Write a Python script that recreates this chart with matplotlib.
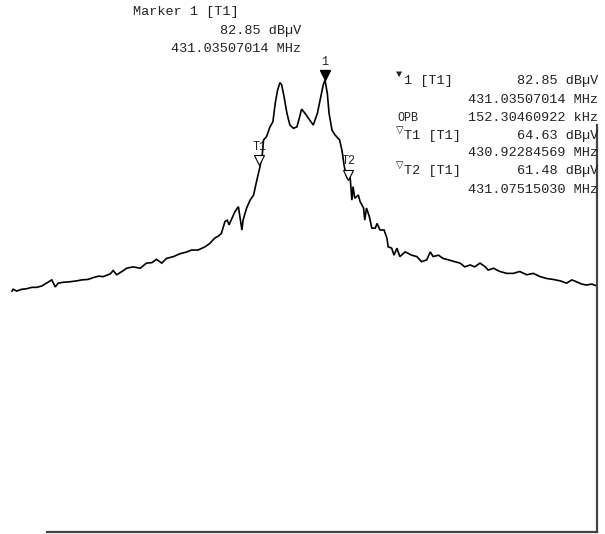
import matplotlib
matplotlib.use("Agg")
import matplotlib.pyplot as plt
from matplotlib.transforms import offset_copy

# ---- data (frequency in MHz, level in dBuV) ----
freq_mhz = [
    430.500, 430.502, 430.508, 430.517, 430.525, 430.534, 430.542, 430.551, 430.559, 430.568,
    430.574, 430.579, 430.588, 430.599, 430.611, 430.619, 430.630, 430.639, 430.648, 430.656,
    430.668, 430.673, 430.679, 430.688, 430.696, 430.707, 430.719, 430.730, 430.739, 430.747,
    430.756, 430.764, 430.776, 430.787, 430.799, 430.807, 430.818, 430.830, 430.838, 430.847,
    430.853, 430.858, 430.864, 430.868, 430.871, 430.876, 430.881, 430.887, 430.893, 430.895,
    430.901, 430.907, 430.913, 430.918, 430.924, 430.928, 430.930, 430.935, 430.941, 430.946,
    430.950, 430.954, 430.958, 430.961, 430.965, 430.970, 430.975, 430.981, 430.987, 430.991,
    430.995, 431.001, 431.007, 431.015, 431.022, 431.028, 431.032, 431.035, 431.039, 431.042,
    431.047, 431.052, 431.060, 431.064, 431.068, 431.072, 431.075, 431.078, 431.081, 431.083,
    431.086, 431.092, 431.095, 431.101, 431.103, 431.106, 431.111, 431.115, 431.121, 431.124,
    431.129, 431.136, 431.141, 431.143, 431.149, 431.153, 431.158, 431.163, 431.172, 431.177,
    431.183, 431.192, 431.200, 431.209, 431.215, 431.220, 431.229, 431.237, 431.246, 431.257,
    431.266, 431.274, 431.283, 431.291, 431.300, 431.309, 431.314, 431.323, 431.334, 431.346,
    431.357, 431.368, 431.380, 431.391, 431.403, 431.414, 431.425, 431.437, 431.448, 431.457,
    431.465, 431.474, 431.482, 431.491, 431.500,
]
level_dbuv = [
    37.6, 38.0, 37.6, 38.0, 38.1, 38.4, 38.4, 38.7, 39.3, 40.0,
    38.5, 39.3, 39.5, 39.6, 39.8, 40.0, 40.1, 40.5, 40.8, 40.7,
    41.3, 42.0, 41.1, 41.8, 42.5, 42.8, 42.5, 43.6, 43.7, 44.4,
    43.6, 44.6, 45.0, 45.6, 46.0, 46.4, 46.4, 47.1, 47.8, 49.0,
    49.4, 50.0, 52.5, 52.8, 51.8, 53.2, 54.6, 55.7, 50.7, 52.8,
    55.4, 57.1, 58.2, 61.1, 64.3, 67.1, 70.0, 70.7, 72.8, 73.9,
    77.9, 80.7, 82.3, 81.8, 79.3, 75.7, 73.2, 72.5, 72.8, 74.6,
    76.6, 75.7, 74.6, 73.2, 75.7, 79.3, 81.8, 82.85, 80.0, 75.7,
    72.1, 71.1, 70.0, 67.8, 64.3, 62.1, 61.5, 62.1, 57.1, 60.0,
    57.5, 58.2, 56.8, 55.4, 52.8, 55.4, 53.5, 51.1, 51.1, 52.1,
    50.7, 50.7, 48.9, 47.1, 46.8, 45.3, 46.8, 45.0, 46.0, 45.7,
    45.3, 45.0, 43.9, 44.3, 46.0, 45.0, 45.3, 44.6, 44.3, 43.9,
    43.6, 42.8, 43.2, 42.8, 43.6, 42.8, 42.1, 42.5, 41.8, 41.4,
    41.4, 41.8, 41.1, 41.4, 40.7, 40.3, 40.1, 39.8, 39.3, 40.0,
    39.6, 39.1, 38.9, 39.1, 38.7,
]

marker_names = ["1", "T1", "T2"]
marker_freq = [431.03507014, 430.92284569, 431.07515030]
marker_level = [82.85, 64.63, 61.48]
opb_khz = 152.30460922

W, H = 605, 534
fig = plt.figure(figsize=(W / 100, H / 100), dpi=100)
fig.patch.set_facecolor("white")

ax = fig.add_axes([12 / W, 2 / H, 585 / W, 532 / H])
ax.set_xlim(430.5, 431.5)
ax.set_ylim(-14.04, 100.0)
ax.plot(freq_mhz, level_dbuv, color="black", lw=1.2, clip_on=False,
        solid_joinstyle="miter")

ax.set_xticks([])
ax.set_yticks([])
for s in ["top", "left"]:
    ax.spines[s].set_visible(False)
for s in ["bottom", "right"]:
    ax.spines[s].set_color("#444444")
    ax.spines[s].set_linewidth(1.6)
ax.spines["bottom"].set_bounds(430.56, 431.5)
ax.spines["right"].set_bounds(-14.04, 73.2)

# trace markers
up = offset_copy(ax.transData, fig=fig, x=0, y=3.4, units="points")
ax.plot([marker_freq[0]], [marker_level[0]], marker="v", ms=6.5, color="black",
        transform=up, clip_on=False)
for f, l in zip(marker_freq[1:], marker_level[1:]):
    ax.plot([f], [l], marker="v", ms=6.5, mfc="white", mec="black", mew=0.8,
            transform=up, clip_on=False, ls="none")

mono = ["Liberation Mono", "DejaVu Sans"]
fs = 9.7
for name, f, l in zip(marker_names, marker_freq, marker_level):
    ax.annotate(name, (f, l), xytext=(0, 9.0), textcoords="offset points",
                ha="center", va="bottom", family=mono, fontsize=8.5, color="#222222")


def ftext(x, y, s, ha="left", size=fs):
    fig.text(x / W, 1 - y / H, s, ha=ha, va="center", family=mono,
             fontsize=size, color="#222222")

# top marker readout
ftext(133, 12, "Marker 1 [T1]")
ftext(301, 31, f"{marker_level[0]:.2f} dBµV", ha="right")
ftext(301, 49, f"{marker_freq[0]:.8f} MHz", ha="right")

# right readout block
R = 598
ftext(396, 74, "▼", size=7.5)
ftext(404, 81, f"{marker_names[0]} [T1]")
ftext(R, 81, f"{marker_level[0]:.2f} dBµV", ha="right")
ftext(R, 100, f"{marker_freq[0]:.8f} MHz", ha="right")
ftext(397, 118, "OPB", size=8.5)
ftext(396, 130, "▽", size=7)
ftext(R, 118, f"{opb_khz:.8f} kHz", ha="right")
ftext(404, 136, f"{marker_names[1]} [T1]")
ftext(R, 136, f"{marker_level[1]:.2f} dBµV", ha="right")
ftext(R, 153, f"{marker_freq[1]:.8f} MHz", ha="right")
ftext(396, 165, "▽", size=7)
ftext(404, 171, f"{marker_names[2]} [T1]")
ftext(R, 171, f"{marker_level[2]:.2f} dBµV", ha="right")
ftext(R, 190, f"{marker_freq[2]:.8f} MHz", ha="right")

fig.savefig("out.png", dpi=100, facecolor="white")
